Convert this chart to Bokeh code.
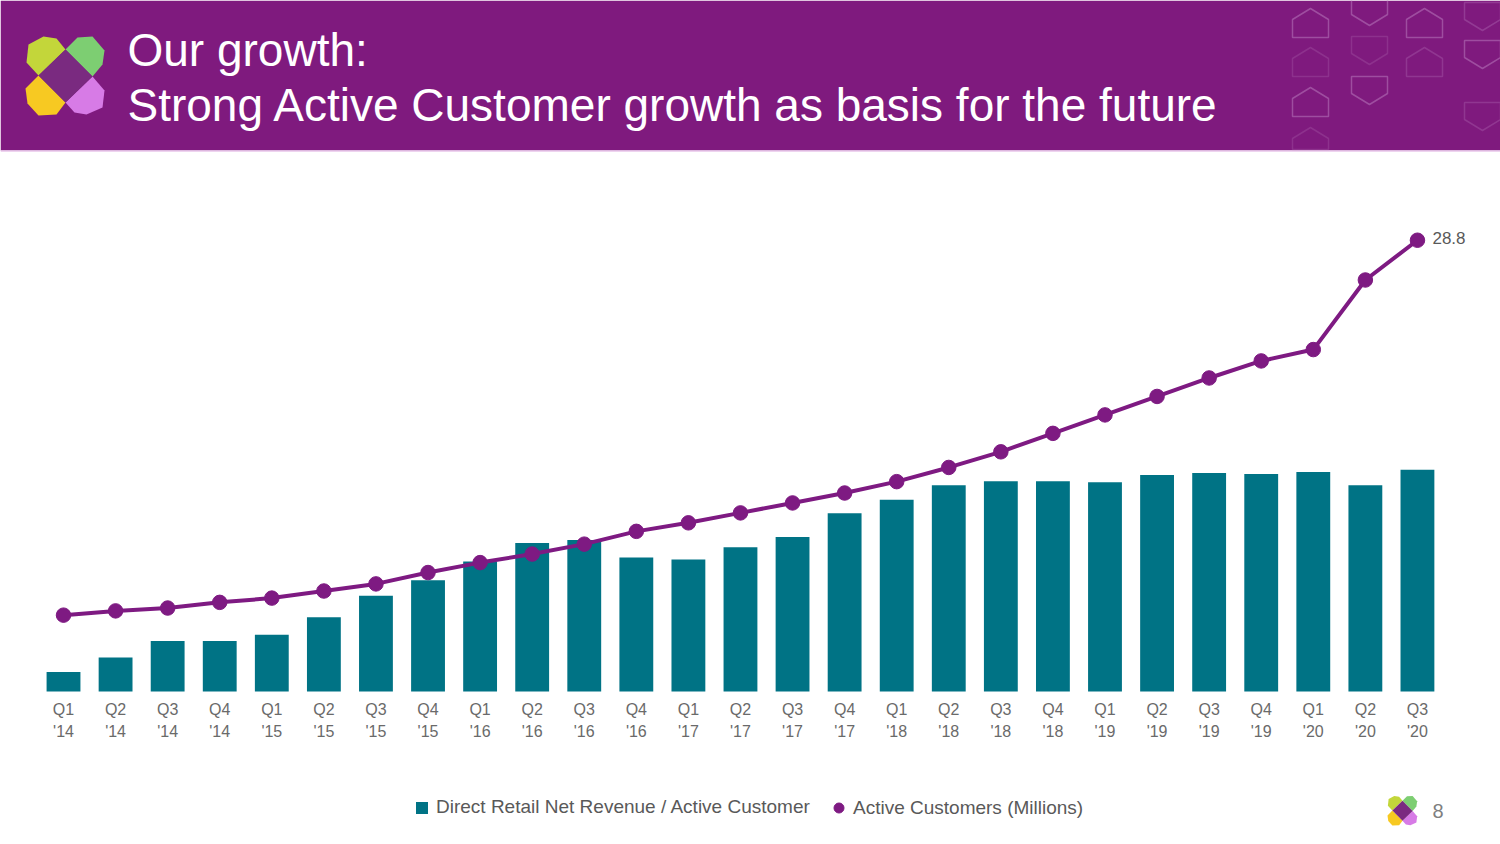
from bokeh.plotting import figure
from bokeh.models import (Range1d, Label, LabelSet, Legend, LegendItem,
                          ColumnDataSource, FixedTicker)
from bokeh.core.properties import value
from bokeh.embed import file_html
from bokeh.resources import INLINE

# ---------------- data ----------------
quarters = ["Q1\n'14", "Q2\n'14", "Q3\n'14", "Q4\n'14",
            "Q1\n'15", "Q2\n'15", "Q3\n'15", "Q4\n'15",
            "Q1\n'16", "Q2\n'16", "Q3\n'16", "Q4\n'16",
            "Q1\n'17", "Q2\n'17", "Q3\n'17", "Q4\n'17",
            "Q1\n'18", "Q2\n'18", "Q3\n'18", "Q4\n'18",
            "Q1\n'19", "Q2\n'19", "Q3\n'19", "Q4\n'19",
            "Q1\n'20", "Q2\n'20", "Q3\n'20"]
# Direct Retail Net Revenue / Active Customer (USD, estimated; axis not shown)
nrac = [259, 273, 289, 289, 295, 312, 333, 348, 366, 384, 387, 370, 368, 380,
        390, 413, 426, 440, 444, 444, 443, 450, 452, 451, 453, 440, 455]
# Active Customers (Millions)
customers = [2.4, 2.7, 2.9, 3.3, 3.6, 4.1, 4.6, 5.4, 6.1, 6.7, 7.4, 8.3, 8.9, 9.6,
             10.3, 11.0, 11.8, 12.8, 13.9, 15.2, 16.5, 17.8, 19.1, 20.3, 21.1, 26.0, 28.8]
x_pos = list(range(len(quarters)))

bar_base = 240          # value at the bar baseline
bar_range = (91.6, 910.3)
cust_range = (-13.75, 45.68)
x_range = (-1.21, 27.595)

PURPLE = "#7F1A7E"
TEAL = "#007385"
LINE = "#7E1A82"
GREY = "#595959"
FONT = "Liberation Sans"

W, H = 1500, 844

p = figure(width=W, height=H, x_range=Range1d(*x_range), y_range=Range1d(*bar_range),
           toolbar_location=None, output_backend="svg", min_border=0)
p.extra_y_ranges = {"cust": Range1d(*cust_range), "py": Range1d(H, 0)}
p.extra_x_ranges = {"px": Range1d(0, W)}
p.outline_line_color = None
p.grid.visible = False
p.yaxis.visible = False

# ---------------- header (page-pixel decoration) ----------------
p.quad(left=0, right=W, top=0, bottom=150, x_range_name="px", y_range_name="py",
       fill_color=PURPLE, line_color=None)
p.segment(x0=0, x1=W, y0=150.5, y1=150.5, x_range_name="px", y_range_name="py",
          line_color="#E9C6EA", line_width=1.5)

logo_shapes = [
    ([38, 26, 28, 43, 56, 65], [75, 62, 44, 36, 38, 49], "#C3D63A"),
    ([65, 77, 92, 104, 102, 92], [49, 37, 36, 50, 64, 76], "#7DCE72"),
    ([38, 65, 56, 38, 27, 25], [75, 102, 114, 115, 103, 88], "#F7C922"),
    ([92, 104, 102, 86, 74, 65], [76, 90, 107, 114, 112, 102], "#D77BE6"),
    ([65, 92, 65, 38], [49, 76, 102, 75], "#7A2A80"),
]
p.patches(xs=[s[0] for s in logo_shapes], ys=[s[1] for s in logo_shapes],
          fill_color=[s[2] for s in logo_shapes], line_color=None,
          x_range_name="px", y_range_name="py")

def up(x0, y0, w=36, h=29):
    return [x0, x0, x0 + w / 2, x0 + w, x0 + w], [y0 + h, y0 + 11, y0, y0 + 11, y0 + h]

def down(x0, y0, w=36, h=28):
    return [x0, x0 + w, x0 + w, x0 + w / 2, x0], [y0, y0, y0 + 17, y0 + h, y0 + 17]

deco = [(up(1292, 8), 0.55), (up(1292, 47), 0.25), (up(1292, 87), 0.55), (up(1292, 127, h=22), 0.25),
        (down(1351, -3), 0.55), (down(1351, 36), 0.25), (down(1351, 76), 0.55),
        (up(1406, 8), 0.55), (up(1406, 47), 0.3),
        (down(1464, 2), 0.35), (down(1464, 40), 0.55), (down(1464, 102), 0.3)]
p.patches(xs=[d[0][0] for d in deco], ys=[d[0][1] for d in deco], fill_alpha=0,
          line_color="#B878BC", line_alpha=[d[1] for d in deco], line_width=1.5,
          x_range_name="px", y_range_name="py")

p.add_layout(Label(x=127, y=49, text="Our growth:", text_color="white",
                   text_font=FONT, text_font_size="46px", text_baseline="alphabetic",
                   x_range_name="px", y_range_name="py"))
p.add_layout(Label(x=127, y=104, text="Strong Active Customer growth as basis for the future",
                   text_color="white", text_font=FONT, text_font_size="46px",
                   text_baseline="alphabetic", x_range_name="px", y_range_name="py"))

# ---------------- chart ----------------
src = ColumnDataSource(dict(x=x_pos, nrac=nrac, cust=customers))

bars = p.vbar(x="x", top="nrac", bottom=bar_base, width=0.65, source=src,
              fill_color=TEAL, line_color=None)
p.line(x="x", y="cust", source=src, y_range_name="cust", line_color=LINE, line_width=4)
dots = p.scatter(x="x", y="cust", source=src, y_range_name="cust", size=14.5,
                 fill_color=LINE, line_color=LINE)

last = ColumnDataSource(dict(x=[x_pos[-1]], cust=[customers[-1]], txt=[f"{customers[-1]}"]))
p.add_layout(LabelSet(x="x", y="cust", text="txt", source=last, y_range_name="cust",
                      x_offset=15, y_offset=2, text_baseline="middle", text_font=value(FONT),
                      text_font_size=value("17px"), text_color=value(GREY)))

# x axis drawn at the bar baseline
p.xaxis.fixed_location = bar_base
p.xaxis.ticker = FixedTicker(ticks=x_pos)
p.xaxis.major_label_overrides = {i: q for i, q in zip(x_pos, quarters)}
p.xaxis.axis_line_color = None
p.xaxis.major_tick_line_color = None
p.xaxis.minor_tick_line_color = None
p.xaxis.major_tick_in = 0
p.xaxis.major_tick_out = 0
p.xaxis.major_label_standoff = 9
p.xaxis.major_label_text_font = FONT
p.xaxis.major_label_text_font_size = "16px"
p.xaxis.major_label_text_color = "#6a6a6a"
p.xaxis.major_label_text_line_height = 1.3

legend_style = dict(orientation="horizontal", background_fill_alpha=0, border_line_color=None,
                    label_text_font=FONT, label_text_font_size="19px", label_text_color=GREY,
                    padding=0, margin=0)
legend_bar = Legend(items=[LegendItem(label="Direct Retail Net Revenue / Active Customer",
                                      renderers=[bars])],
                    location=(414, 26), glyph_width=15, glyph_height=15, label_standoff=7,
                    **legend_style)
legend_dot = Legend(items=[LegendItem(label="Active Customers (Millions)", renderers=[dots])],
                    location=(826, 24), glyph_width=25, glyph_height=25, label_standoff=2,
                    **legend_style)
p.add_layout(legend_bar)
p.add_layout(legend_dot)

# footer logo + page number
p.patches(xs=[[1402 + (x - 65) * 0.375 for x in s[0]] for s in logo_shapes],
          ys=[[810 + (y - 75) * 0.375 for y in s[1]] for s in logo_shapes],
          fill_color=[s[2] for s in logo_shapes], line_color=None,
          x_range_name="px", y_range_name="py")
p.add_layout(Label(x=1432, y=810, text="8", text_font=FONT, text_font_size="20px",
                   text_color="#7f7f7f", text_baseline="alphabetic",
                   x_range_name="px", y_range_name="py"))

open("out.html", "w").write(file_html(p, INLINE))
